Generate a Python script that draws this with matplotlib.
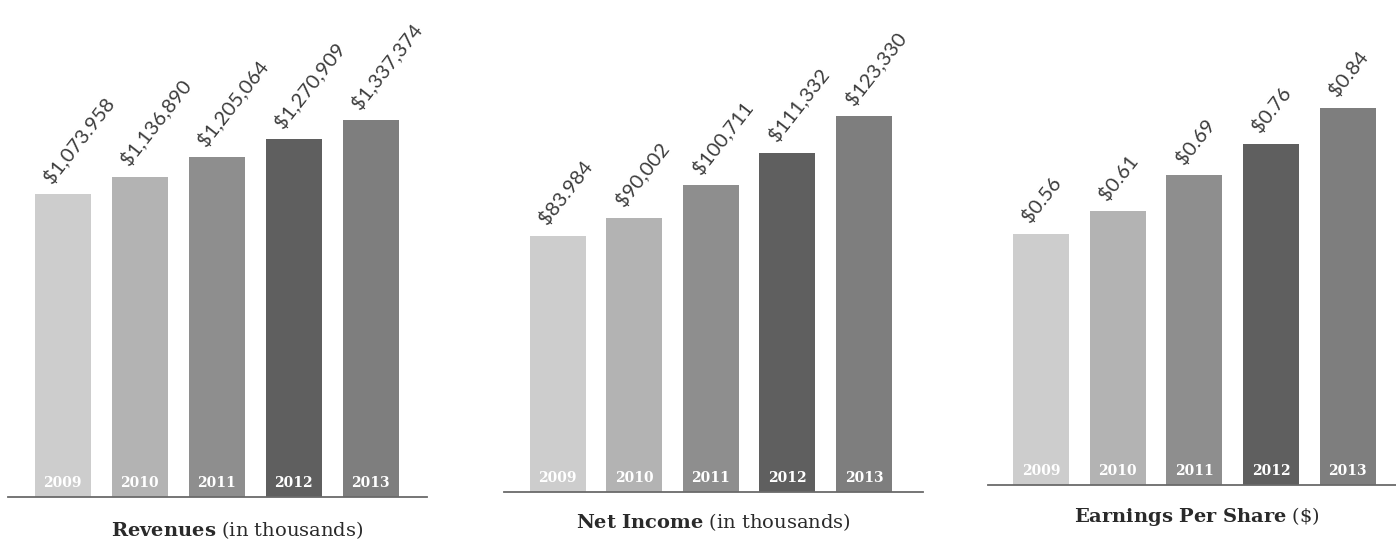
import matplotlib
matplotlib.use('Agg')
import matplotlib.pyplot as plt

plt.rcParams['mathtext.fontset'] = 'custom'
plt.rcParams['mathtext.bf'] = 'DejaVu Serif:bold'
plt.rcParams['mathtext.rm'] = 'DejaVu Serif'

years = ['2009', '2010', '2011', '2012', '2013']
revenues = [1073958, 1136890, 1205064, 1270909, 1337374]
revenue_labels = ['$1,073.958', '$1,136,890', '$1,205,064', '$1,270,909', '$1,337,374']
net_income = [83984, 90002, 100711, 111332, 123330]
net_income_labels = ['$83.984', '$90,002', '$100,711', '$111,332', '$123,330']
eps = [0.56, 0.61, 0.69, 0.76, 0.84]
eps_labels = ['$0.56', '$0.61', '$0.69', '$0.76', '$0.84']

bar_colors = ['#cdcdcd', '#b3b3b3', '#8e8e8e', '#5f5f5f', '#7e7e7e']

W, H = 1396, 540
fig = plt.figure(figsize=(W / 100, H / 100), dpi=100)

# panel geometry in pixels: axis line left/right, baseline, px height of the max bar, x range in bar units
panels = [
    dict(values=revenues, labels=revenue_labels, left=8, right=427, base=497, top_px=377,
         xlim=(-0.71, 4.73), title=r'$\bf{Revenues}$ (in thousands)', tx=237, ty=530),
    dict(values=net_income, labels=net_income_labels, left=504, right=923, base=492, top_px=376,
         xlim=(-0.70, 4.77), title=r'$\bf{Net\ Income}$ (in thousands)', tx=713, ty=522),
    dict(values=eps, labels=eps_labels, left=988, right=1396, base=485, top_px=377,
         xlim=(-0.69, 4.63), title=r'$\bf{Earnings\ Per\ Share}$ (\$)', tx=1197, ty=517),
]

for p in panels:
    ax = fig.add_axes([p['left'] / W, (H - p['base']) / H, (p['right'] - p['left']) / W, p['base'] / H])
    x = range(len(years))
    vmax = max(p['values'])
    ax.bar(x, p['values'], width=0.73, color=bar_colors, zorder=2)
    ax.set_xlim(*p['xlim'])
    ax.set_ylim(0, vmax * p['base'] / p['top_px'])
    for s in ['top', 'left', 'right']:
        ax.spines[s].set_visible(False)
    ax.spines['bottom'].set_color('#6a6a6a')
    ax.spines['bottom'].set_linewidth(1.3)
    ax.set_xticks([])
    ax.set_yticks([])
    ax.patch.set_alpha(0)
    for i, (v, lab, yr) in enumerate(zip(p['values'], p['labels'], years)):
        ax.annotate(lab, xy=(i, v), xytext=(-8, 8), textcoords='offset pixels',
                    rotation=52, rotation_mode='anchor', ha='left', va='bottom',
                    fontsize=14.5, color='#3c3c3c', family=['Lato', 'DejaVu Sans'],
                    annotation_clip=False)
        ax.annotate(yr, xy=(i, 0), xytext=(0, 14), textcoords='offset pixels',
                    ha='center', va='center', fontsize=10, color='white',
                    fontweight='bold', family='DejaVu Serif', zorder=3)
    fig.text(p['tx'] / W, (H - p['ty']) / H, p['title'], ha='center', va='center',
             fontsize=14, color='#2a2a2a', family='DejaVu Serif')

fig.savefig('out.png', dpi=100)
